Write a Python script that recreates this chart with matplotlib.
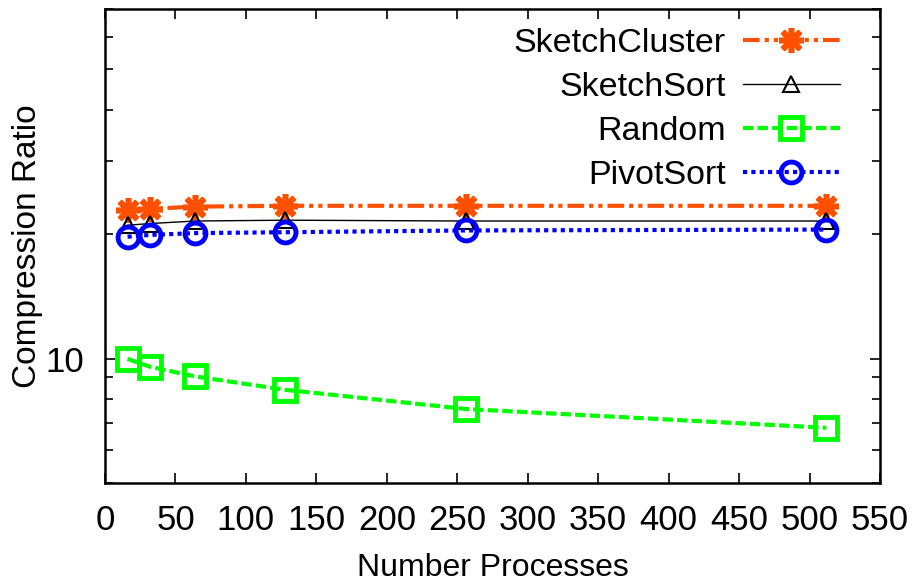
"""Compression ratio vs number of processes (gnuplot-style line chart)."""
import matplotlib
matplotlib.use("Agg")
import matplotlib.pyplot as plt
from matplotlib.ticker import LogLocator, NullFormatter, FixedLocator, FixedFormatter

plt.rcParams["font.family"] = ["Liberation Sans", "DejaVu Sans"]

processes = [16, 32, 64, 128, 256, 512]
sketch_cluster = [22.9, 23.0, 23.3, 23.4, 23.4, 23.4]
sketch_sort = [21.0, 21.2, 21.5, 21.6, 21.5, 21.5]
random_order = [9.98, 9.55, 9.05, 8.4, 7.55, 6.8]
pivot_sort = [19.7, 19.9, 20.1, 20.2, 20.4, 20.5]

x_ticks = list(range(0, 551, 50))

fig = plt.figure(figsize=(9.17, 5.83), dpi=100)
ax = fig.add_axes([105 / 917, 1 - 483 / 583, 775 / 917, 474 / 583])

ax.plot(processes, sketch_cluster, color="#ff5000", lw=3, dashes=(4, 1.2, 1, 1.2, 1, 1.2),
        marker=(8, 2, 0), ms=18, mew=4, label="SketchCluster")
ax.plot(processes, sketch_sort, color="black", lw=1, marker="^", ms=12, mfc="none",
        mew=1.5, label="SketchSort")
ax.plot(processes, random_order, color="#00ff00", lw=3, dashes=(2.5, 1),
        marker="s", ms=16, mfc="none", mew=3.5, label="Random")
ax.plot(processes, pivot_sort, color="#0000ff", lw=3, dashes=(1, 1),
        marker="o", ms=15, mfc="none", mew=3.5, label="PivotSort")

ax.set_xlim(0, 550)
ax.set_yscale("log")
ax.set_ylim(5, 70)
ax.xaxis.set_major_locator(FixedLocator(x_ticks))
ax.yaxis.set_major_locator(FixedLocator([10]))
ax.yaxis.set_major_formatter(FixedFormatter(["10"]))
ax.yaxis.set_minor_locator(LogLocator(base=10, subs=range(2, 10)))
ax.yaxis.set_minor_formatter(NullFormatter())

ax.tick_params(which="both", direction="in", top=True, right=True, labelsize=25,
               width=1.2, pad=15)
ax.tick_params(which="major", length=7)
ax.tick_params(which="minor", length=6)
for s in ax.spines.values():
    s.set_linewidth(1.8)

ax.set_xlabel("Number Processes", fontsize=23)
ax.set_ylabel("Compression Ratio", fontsize=24)
ax.xaxis.set_label_coords(0.5, -0.148)
ax.yaxis.set_label_coords(-0.08, 0.5)

ax.legend(loc="upper right", bbox_to_anchor=(0.948, 0.96), frameon=False, fontsize=24.5,
          markerfirst=False, handlelength=2.85, handletextpad=0.5, labelspacing=0.38,
          borderpad=0, borderaxespad=0)

fig.savefig("out.png", dpi=100)
